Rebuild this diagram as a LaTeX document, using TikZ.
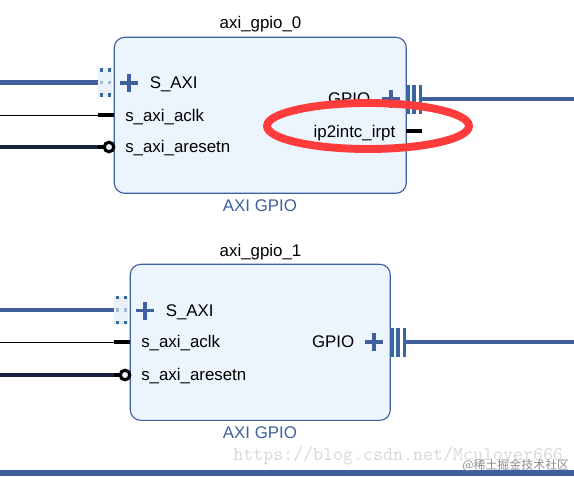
\documentclass[tikz,border=0pt]{standalone}
\usepackage{fontspec}
\setmainfont{Liberation Sans}
\newfontfamily\wmfont{Noto Sans CJK SC}
\definecolor{my_blue}{HTML}{3F5F9F}
\definecolor{my_portblue}{HTML}{3A689E}
\definecolor{my_fill}{HTML}{ECF4FD}
\definecolor{my_pale}{HTML}{E8F0F8}
\definecolor{my_navy}{HTML}{16233F}
\definecolor{my_red}{HTML}{FF3B3B}
\definecolor{my_mark}{HTML}{D8D8D2}
\tikzset{
    ipbox/.style={draw=my_blue, fill=my_fill, line width=0.8pt, rounded corners=2.6mm,
        minimum width=73mm, minimum height=39mm, inner sep=0pt},
    portlabel/.style={font=\fontsize{12pt}{14pt}\selectfont, inner sep=0pt},
    iptitle/.style={portlabel, text=black},
    iptype/.style={portlabel, text=my_blue},
    busline/.style={my_blue, line width=3.3pt},
    clkline/.style={black, line width=0.7pt},
    rstline/.style={my_navy, line width=2.6pt},
    stub/.style={black, line width=2.8pt},
    portbar/.style={my_portblue, line width=2.5pt},
    plusarm/.style={my_blue, line width=2.8pt}
}
\newcommand{\plusport}[2]{%
    \draw[plusarm] (#1-9,#2) -- (#1+9,#2);
    \draw[plusarm] (#1,#2-9) -- (#1,#2+9);
}
\begin{document}
\begin{tikzpicture}[x=0.25mm, y=-0.25mm]

% Coordinates are pixels of the 574x476 frame, y grows downwards
\useasboundingbox (0,0) rectangle (574,476);

% Bottom bus along the frame
\coordinate (busl) at (0,473);
\coordinate (busr) at (574,473);
\draw[my_blue, line width=4pt] (busl) -- (busr);

% IP blocks
\node[ipbox, minimum width=73mm] (gpio0) at (260.3,115.3) {};
\node[ipbox, minimum width=65mm] (gpio1) at (260.3,342.3) {};
\node[iptitle] (title0) at (260.5,24) {axi\_gpio\_0};
\node[iptitle] (title1) at (260.5,252) {axi\_gpio\_1};
\node[iptype] (type0) at (260,205.5) {AXI GPIO};
\node[iptype] (type1) at (260,432.5) {AXI GPIO};

% Left side ports: block / box edge / y of S_AXI, aclk, aresetn
\foreach \n/\xb/\ya/\yc/\yr in {0/114.3/82.3/115.3/147, 1/130.3/310/342/375} {
    % dotted S_AXI port
    \fill[my_pale] (\xb-16,\ya-14.5) rectangle (\xb-2,\ya+14.5);
    \foreach \dx in {12.5,5} {
        \fill[my_portblue] (\xb-\dx-1.6,\ya-14) rectangle (\xb-\dx+1.6,\ya-10.8);
        \fill[my_portblue!45] (\xb-\dx-1.6,\ya-1.6) rectangle (\xb-\dx+1.6,\ya+1.6);
        \fill[my_portblue] (\xb-\dx-1.6,\ya+11) rectangle (\xb-\dx+1.6,\ya+14.2);
    }
    \coordinate (axiin\n) at (0,\ya);
    \coordinate (axiport\n) at (\xb-16,\ya);
    \draw[busline] (axiin\n) -- (axiport\n);
    \plusport{\xb+14.7}{\ya+0.5}
    \node[portlabel, anchor=mid west] (axi\n) at (\xb+35.2,\ya+2.5) {S\_AXI};

    % clock port
    \coordinate (clkin\n) at (0,\yc);
    \coordinate (clkport\n) at (\xb-16,\yc);
    \coordinate (clkedge\n) at (\xb,\yc);
    \draw[clkline] (clkin\n) -- (clkport\n);
    \draw[stub] (clkport\n) -- (clkedge\n);
    \node[portlabel, anchor=mid west] (clk\n) at (\xb+10.7,\yc+2) {s\_axi\_aclk};

    % reset port, active low
    \coordinate (rstin\n) at (0,\yr);
    \coordinate (rststub\n) at (\xb-16,\yr);
    \node[circle, draw=black, fill=my_fill, line width=2.2pt, minimum size=6.8pt, inner sep=0pt]
        (rstport\n) at (\xb-5.3,\yr) {};
    \draw[rstline] (rstin\n) -- (rststub\n);
    \draw[stub] (rststub\n) -- (rstport\n);
    \node[portlabel, anchor=mid west] (rst\n) at (\xb+10.7,\yr+2) {s\_axi\_aresetn};
}

% Right side GPIO ports: block / box edge / y / label end / plus
\foreach \n/\xb/\yg/\xt/\xp in {0/406.3/99/370.5/391, 1/390.3/342/354.5/374} {
    \foreach \dx in {1.5,7.8,14} {
        \draw[portbar] (\xb+\dx,\yg-14.5) -- (\xb+\dx,\yg+14.5);
    }
    \coordinate (gpioport\n) at (\xb+16,\yg);
    \coordinate (gpioout\n) at (574,\yg);
    \draw[busline] (gpioport\n) -- (gpioout\n);
    \plusport{\xp}{\yg}
    \node[portlabel, anchor=mid east] (gpiotext\n) at (\xt,\yg+1.5) {GPIO};
}

% Interrupt port, only on the first block
\coordinate (irqedge) at (406.3,131);
\coordinate (irqend) at (422,131);
\draw[stub] (irqedge) -- (irqend);
\node[portlabel, anchor=mid east] (irq) at (395.5,134) {ip2intc\_irpt};

% Hand drawn red ring
\draw[my_red, line width=5.6pt] (368,126) ellipse [x radius=101, y radius=23];

% Watermarks
\node[font=\ttfamily\fontsize{13.8pt}{15pt}\selectfont, text=my_mark, inner sep=0pt, anchor=mid west]
    (markurl) at (233,457) {https://blog.csdn.net/Mculover666};
\node[font=\wmfont\fontsize{8.5pt}{10pt}\selectfont, text=black!45, inner sep=0pt, anchor=mid west]
    (markcn) at (462,466) {@稀土掘金技术社区};

\end{tikzpicture}
\end{document}
